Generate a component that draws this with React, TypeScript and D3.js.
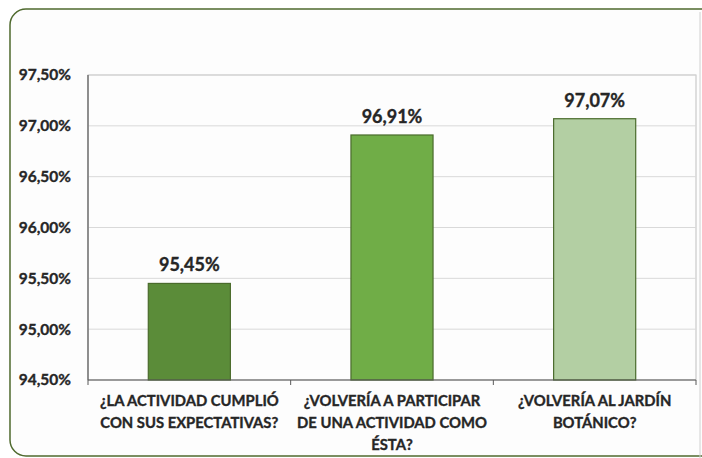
import React from "react";
import * as d3 from "d3";

const categories: string[][] = [
  ["¿LA ACTIVIDAD CUMPLIÓ", "CON SUS EXPECTATIVAS?"],
  ["¿VOLVERÍA A PARTICIPAR", "DE UNA ACTIVIDAD COMO", "ÉSTA?"],
  ["¿VOLVERÍA AL JARDÍN", "BOTÁNICO?"],
];
const values: number[] = [95.45, 96.91, 97.07];
const barColors: string[] = ["#5b8c39", "#70ad47", "#b3cfa3"];
const yTicks: number[] = [94.5, 95.0, 95.5, 96.0, 96.5, 97.0, 97.5];

const W = 702;
const H = 458;
const FONT = "Lato, 'Open Sans', sans-serif";

const fmt = (v: number) => v.toFixed(2).replace(".", ",") + "%";

export default function App() {
  const left = 88, right = 696, top = 75, bottom = 380;
  const x = d3.scaleBand<number>().domain(d3.range(values.length)).range([left, right]).paddingInner(0.595).paddingOuter(0.2975);
  const y = d3.scaleLinear().domain([94.5, 97.5]).range([bottom, top]);
  const band = (right - left) / values.length;
  const textStyle = { fontFamily: FONT, fontWeight: "bold" as const, fill: "#262626", stroke: "#262626", strokeWidth: 0.35 };

  return (
    <svg width={W} height={H} style={{ position: "absolute", left: 0, top: 0 }}>
      <rect x={0} y={0} width={W} height={H} fill="#ffffff" />
      <rect x={10} y={9} width={W + 20} height={447} rx={16} ry={16} fill="#fdfdfd" stroke="#4f6a2e" strokeWidth={1.5} />
      <line x1={700} x2={700} y1={12} y2={H} stroke="#d0d0d0" strokeWidth={1} />
      <rect x={left} y={top} width={right - left} height={bottom - top} fill="none" stroke="#bfbfbf" strokeWidth={1} />
      {yTicks.map((t) => (
        <line key={"g" + t} x1={left} x2={right} y1={y(t)} y2={y(t)} stroke="#d9d9d9" strokeWidth={1} />
      ))}
      {yTicks.map((t) => (
        <text key={"t" + t} x={71} y={y(t)} dy="0.35em" textAnchor="end" fontSize={15.5} style={textStyle}>
          {fmt(t)}
        </text>
      ))}
      {values.map((v, i) => (
        <g key={"b" + i}>
          <rect x={x(i)!} y={y(v)} width={x.bandwidth()} height={bottom - y(v)} fill={barColors[i]} stroke="#4a6b2c" strokeWidth={1.2} />
          <text x={x(i)! + x.bandwidth() / 2} y={y(v) - 12} textAnchor="middle" fontSize={18} style={textStyle}>
            {fmt(v)}
          </text>
        </g>
      ))}
      <line x1={left} x2={left} y1={top} y2={bottom} stroke="#595959" strokeWidth={1.2} />
      <line x1={left} x2={right} y1={bottom} y2={bottom} stroke="#595959" strokeWidth={1.2} />
      {d3.range(values.length + 1).map((i) => (
        <line key={"tk" + i} x1={left + band * i} x2={left + band * i} y1={bottom} y2={bottom + 5} stroke="#595959" strokeWidth={1} />
      ))}
      {categories.map((lines, i) => (
        <text key={"c" + i} x={x(i)! + x.bandwidth() / 2} textAnchor="middle" fontSize={14.8} style={textStyle}>
          {lines.map((l, j) => (
            <tspan key={j} x={x(i)! + x.bandwidth() / 2} y={406 + j * 22}>{l}</tspan>
          ))}
        </text>
      ))}
    </svg>
  );
}
